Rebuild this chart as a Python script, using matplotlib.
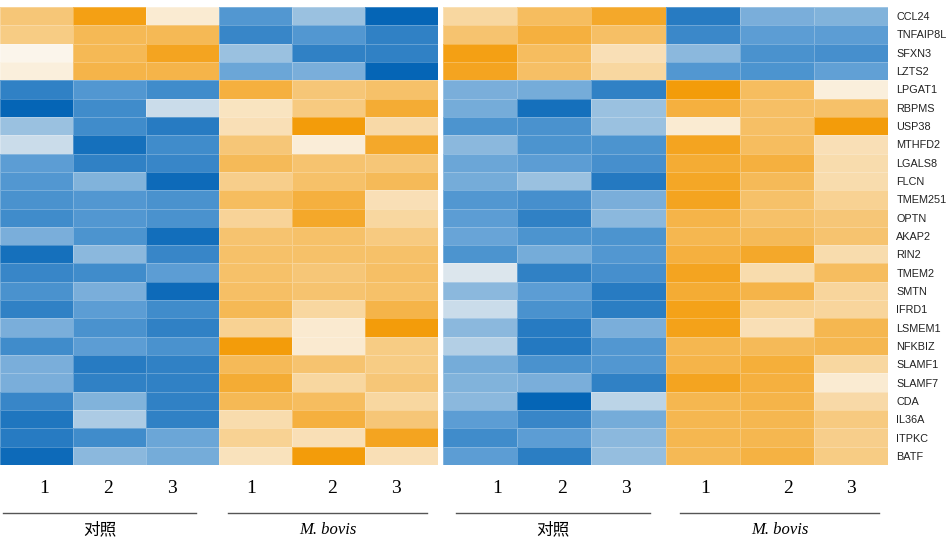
import numpy as np
import matplotlib
matplotlib.use("Agg")
import matplotlib.pyplot as plt
from matplotlib.colors import LinearSegmentedColormap
from matplotlib.lines import Line2D

genes = ["CCL24", "TNFAIP8L", "SFXN3", "LZTS2", "LPGAT1", "RBPMS", "USP38",
         "MTHFD2", "LGALS8", "FLCN", "TMEM251", "OPTN", "AKAP2", "RIN2",
         "TMEM2", "SMTN", "IFRD1", "LSMEM1", "NFKBIZ", "SLAMF1", "SLAMF7",
         "CDA", "IL36A", "ITPKC", "BATF"]

sample_labels = ["1", "2", "3", "1", "2", "3"]
group_labels = ["对照", "M. bovis"]

# scaled expression, columns: control 1-3, M. bovis 1-3
left_values = [
    [0.45, 0.90, 0.12, -0.55, -0.30, -1.00],
    [0.40, 0.60, 0.60, -0.70, -0.55, -0.75],
    [0.03, 0.60, 0.85, -0.30, -0.75, -0.75],
    [0.08, 0.65, 0.65, -0.45, -0.40, -1.00],
    [-0.75, -0.55, -0.65, 0.70, 0.45, 0.50],
    [-1.00, -0.65, -0.15, 0.18, 0.42, 0.75],
    [-0.30, -0.65, -0.80, 0.22, 0.95, 0.28],
    [-0.15, -0.90, -0.65, 0.45, 0.10, 0.80],
    [-0.50, -0.75, -0.70, 0.58, 0.48, 0.45],
    [-0.55, -0.38, -0.95, 0.38, 0.50, 0.58],
    [-0.60, -0.55, -0.60, 0.55, 0.70, 0.22],
    [-0.65, -0.55, -0.60, 0.33, 0.80, 0.30],
    [-0.40, -0.58, -0.92, 0.48, 0.50, 0.42],
    [-0.90, -0.35, -0.70, 0.50, 0.50, 0.50],
    [-0.70, -0.65, -0.50, 0.50, 0.45, 0.52],
    [-0.60, -0.40, -0.95, 0.52, 0.48, 0.50],
    [-0.75, -0.50, -0.65, 0.60, 0.30, 0.65],
    [-0.40, -0.60, -0.75, 0.35, 0.13, 0.95],
    [-0.65, -0.50, -0.60, 0.95, 0.13, 0.40],
    [-0.40, -0.80, -0.75, 0.58, 0.48, 0.40],
    [-0.40, -0.75, -0.75, 0.75, 0.30, 0.45],
    [-0.70, -0.38, -0.75, 0.60, 0.55, 0.30],
    [-0.85, -0.25, -0.75, 0.25, 0.70, 0.45],
    [-0.80, -0.65, -0.45, 0.35, 0.22, 0.85],
    [-0.95, -0.35, -0.42, 0.20, 0.95, 0.22],
]

right_values = [
    [0.30, 0.55, 0.80, -0.80, -0.40, -0.38],
    [0.48, 0.70, 0.52, -0.68, -0.50, -0.50],
    [0.90, 0.55, 0.22, -0.35, -0.60, -0.62],
    [0.85, 0.52, 0.30, -0.55, -0.58, -0.48],
    [-0.40, -0.42, -0.75, 0.95, 0.55, 0.08],
    [-0.42, -0.90, -0.30, 0.70, 0.52, 0.50],
    [-0.58, -0.60, -0.30, 0.12, 0.52, 0.95],
    [-0.35, -0.58, -0.58, 0.85, 0.55, 0.22],
    [-0.45, -0.50, -0.62, 0.75, 0.70, 0.25],
    [-0.42, -0.30, -0.82, 0.82, 0.58, 0.25],
    [-0.55, -0.62, -0.40, 0.85, 0.50, 0.35],
    [-0.50, -0.75, -0.35, 0.65, 0.50, 0.45],
    [-0.46, -0.58, -0.58, 0.62, 0.58, 0.48],
    [-0.58, -0.42, -0.55, 0.70, 0.80, 0.25],
    [-0.10, -0.75, -0.62, 0.85, 0.25, 0.55],
    [-0.35, -0.50, -0.80, 0.75, 0.65, 0.32],
    [-0.15, -0.60, -0.78, 0.88, 0.35, 0.32],
    [-0.35, -0.80, -0.40, 0.88, 0.22, 0.62],
    [-0.22, -0.82, -0.55, 0.62, 0.58, 0.62],
    [-0.42, -0.60, -0.55, 0.65, 0.72, 0.30],
    [-0.38, -0.40, -0.75, 0.85, 0.70, 0.12],
    [-0.35, -1.00, -0.20, 0.62, 0.65, 0.28],
    [-0.50, -0.70, -0.42, 0.62, 0.62, 0.42],
    [-0.65, -0.50, -0.35, 0.62, 0.62, 0.38],
    [-0.50, -0.78, -0.32, 0.60, 0.68, 0.40],
]

cmap = LinearSegmentedColormap.from_list(
    "bwo", ["#0565B6", "#5B9DD4", "#FBF8F3", "#F6C16A", "#F39800"])

W, H = 948, 540
fig = plt.figure(figsize=(W / 100, H / 100), dpi=100)

panels = [(left_values, 0, 438, [0.6, 1.48, 2.36, 3.44, 4.55, 5.42]),
          (right_values, 443, 445, [0.73, 1.6, 2.47, 3.53, 4.65, 5.5])]

for i, (vals, x0, w, tick_pos) in enumerate(panels):
    ax = fig.add_axes([x0 / W, (H - 465) / H, w / W, 458 / H])
    data = np.array(vals)
    ax.pcolormesh(data, cmap=cmap, vmin=-1, vmax=1,
                  edgecolors=(1, 1, 1, 0.25), linewidth=0.4)
    ax.set_xlim(0, 6)
    ax.set_ylim(len(genes), 0)
    ax.set_xticks(tick_pos)
    ax.set_xticklabels(sample_labels, fontfamily="Liberation Serif", fontsize=14)
    ax.tick_params(axis="x", length=0, pad=11)
    for s in ax.spines.values():
        s.set_visible(False)
    if i == 1:
        ax.yaxis.tick_right()
        ax.set_yticks(np.arange(len(genes)) + 0.5)
        ax.set_yticklabels(genes, fontfamily="Liberation Sans", fontsize=7.8,
                           color="#222222")
        ax.tick_params(axis="y", length=0, pad=6)
    else:
        ax.set_yticks([])

# group underlines and labels
line_spans = [(3, 196), (228, 427), (456, 650), (680, 879)]
for j, (a, b) in enumerate(line_spans):
    y = (H - 513) / H
    fig.add_artist(Line2D([a / W, b / W], [y, y], color="#555555", lw=1,
                          transform=fig.transFigure))
    label = group_labels[j % 2]
    xc = (a + b) / 2 / W
    if label == "对照":
        fig.text(xc, (H - 530) / H, label, ha="center", va="center",
                 fontsize=12, family=["Noto Sans CJK SC", "DejaVu Sans"])
    else:
        fig.text(xc, (H - 530) / H, label, ha="center", va="center",
                 fontsize=12, family="Liberation Serif", style="italic")

fig.savefig("out.png", dpi=100)
